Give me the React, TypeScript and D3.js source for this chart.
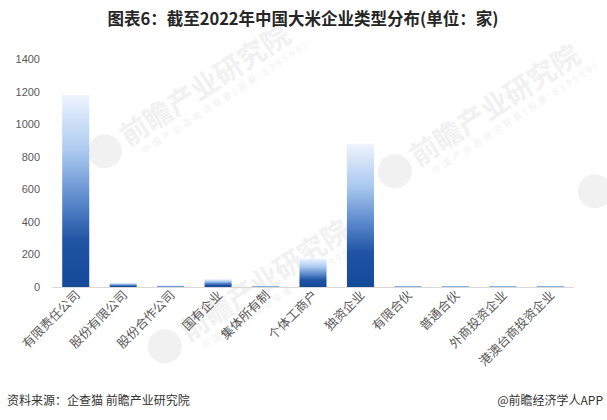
import { useEffect, useRef } from 'react'
import * as d3 from 'd3'

const categories = [
  '有限责任公司', '股份有限公司', '股份合作公司', '国有企业', '集体所有制',
  '个体工商户', '独资企业', '有限合伙', '普通合伙', '外商投资企业', '港澳台商投资企业'
]
const counts = [1178, 25, 7, 48, 5, 175, 880, 5, 5, 5, 5]
const yTicks = [0, 200, 400, 600, 800, 1000, 1200, 1400]

const title = '图表6：截至2022年中国大米企业类型分布(单位：家)'
const source = '资料来源：企查猫 前瞻产业研究院'
const credit = '@前瞻经济学人APP'

const watermarks = [
  { x: 130, y: 135, label: true },
  { x: 420, y: 155, label: true },
  { x: 190, y: 330, label: true },
  { x: 620, y: 175, label: false }
]

export default function App() {
  const svgRef = useRef<SVGSVGElement>(null)

  useEffect(() => {
    if (!svgRef.current) return
    const svg = d3.select(svgRef.current)
    svg.selectAll('*').remove()

    const W = 607, H = 420
    const margin = { top: 59, right: 33, bottom: 133, left: 52 }

    svg.attr('width', W).attr('height', H)
    svg.append('rect').attr('width', W).attr('height', H).attr('fill', '#fff')

    // gradient for bars
    const grad = svg.append('defs').append('linearGradient')
      .attr('id', 'barGrad')
      .attr('x1', 0).attr('y1', 0).attr('x2', 0).attr('y2', 1)
    const stops: [string, string][] = [
      ['0%', '#eef5fe'], ['30%', '#a9c8ef'], ['55%', '#5a89cc'],
      ['76%', '#1f53a3'], ['100%', '#154a9b']
    ]
    stops.forEach(([o, c]) => grad.append('stop').attr('offset', o).attr('stop-color', c))

    // watermarks
    const wm = svg.append('g').attr('fill', '#f1f1f1')
    watermarks.forEach(p => {
      const g = wm.append('g').attr('transform', `translate(${p.x},${p.y}) rotate(-33)`)
      g.append('circle').attr('cx', -30).attr('cy', 0).attr('r', 17)
      if (!p.label) return
      g.append('text').attr('x', -8).attr('y', 9)
        .style('font-family', '"Noto Sans CJK SC"').style('font-size', '28px').style('font-weight', 700)
        .text('前瞻产业研究院')
      g.append('text').attr('x', 2).attr('y', 24)
        .style('font-family', '"Noto Sans CJK SC"').style('font-size', '9px')
        .attr('letter-spacing', 3)
        .text('中国产业咨询领导者(股票:839599)')
    })

    const x = d3.scaleBand<string>()
      .domain(categories)
      .range([margin.left, W - margin.right])
      .paddingInner(0.43)
      .paddingOuter(0.215)

    const y = d3.scaleLinear()
      .domain([0, 1400])
      .range([H - margin.bottom, margin.top])

    // title
    svg.append('text')
      .attr('x', 303).attr('y', 25)
      .attr('text-anchor', 'middle')
      .style('font-family', '"Noto Sans CJK SC", sans-serif')
      .style('font-size', '16.5px')
      .style('font-weight', 700)
      .style('fill', '#262626')
      .text(title)

    // y labels
    svg.append('g')
      .selectAll('text')
      .data(yTicks)
      .enter()
      .append('text')
      .attr('x', 40)
      .attr('y', d => y(d) + 4)
      .attr('text-anchor', 'end')
      .style('font-family', '"Liberation Sans", Arial, sans-serif')
      .style('font-size', '11px')
      .style('fill', '#595959')
      .text(d => d)

    // bars
    svg.append('g')
      .selectAll('rect')
      .data(counts)
      .enter()
      .append('rect')
      .attr('x', (d, i) => x(categories[i])!)
      .attr('width', x.bandwidth())
      .attr('y', d => y(d))
      .attr('height', d => y(0) - y(d))
      .attr('fill', d => (y(0) - y(d) < 3 ? '#6d9ad8' : 'url(#barGrad)'))

    // axis line
    svg.append('line')
      .attr('x1', margin.left).attr('x2', W - margin.right)
      .attr('y1', y(0) + 0.5).attr('y2', y(0) + 0.5)
      .attr('stroke', '#d9d9d9').attr('stroke-width', 1)

    // x labels
    svg.append('g')
      .selectAll('text')
      .data(categories)
      .enter()
      .append('text')
      .attr('transform', d => `translate(${x(d)! + x.bandwidth() / 2 + 5},${y(0) + 9}) rotate(-45)`)
      .attr('text-anchor', 'end')
      .style('font-family', '"Noto Sans CJK SC", serif')
      .style('font-size', '12.5px')
      .style('fill', '#595959')
      .text(d => d)

    // footer
    svg.append('text')
      .attr('x', 7).attr('y', 405)
      .style('font-family', '"Noto Sans CJK SC", sans-serif')
      .style('font-size', '12px')
      .style('fill', '#333')
      .text(source)

    svg.append('text')
      .attr('x', 603).attr('y', 405)
      .attr('text-anchor', 'end')
      .style('font-family', '"Noto Sans CJK SC", sans-serif')
      .style('font-size', '12px')
      .style('fill', '#333')
      .text(credit)
  }, [])

  return (
    <div style={{ position: 'absolute', left: 0, top: 0 }}>
      <svg ref={svgRef} style={{ display: 'block' }}></svg>
    </div>
  )
}
